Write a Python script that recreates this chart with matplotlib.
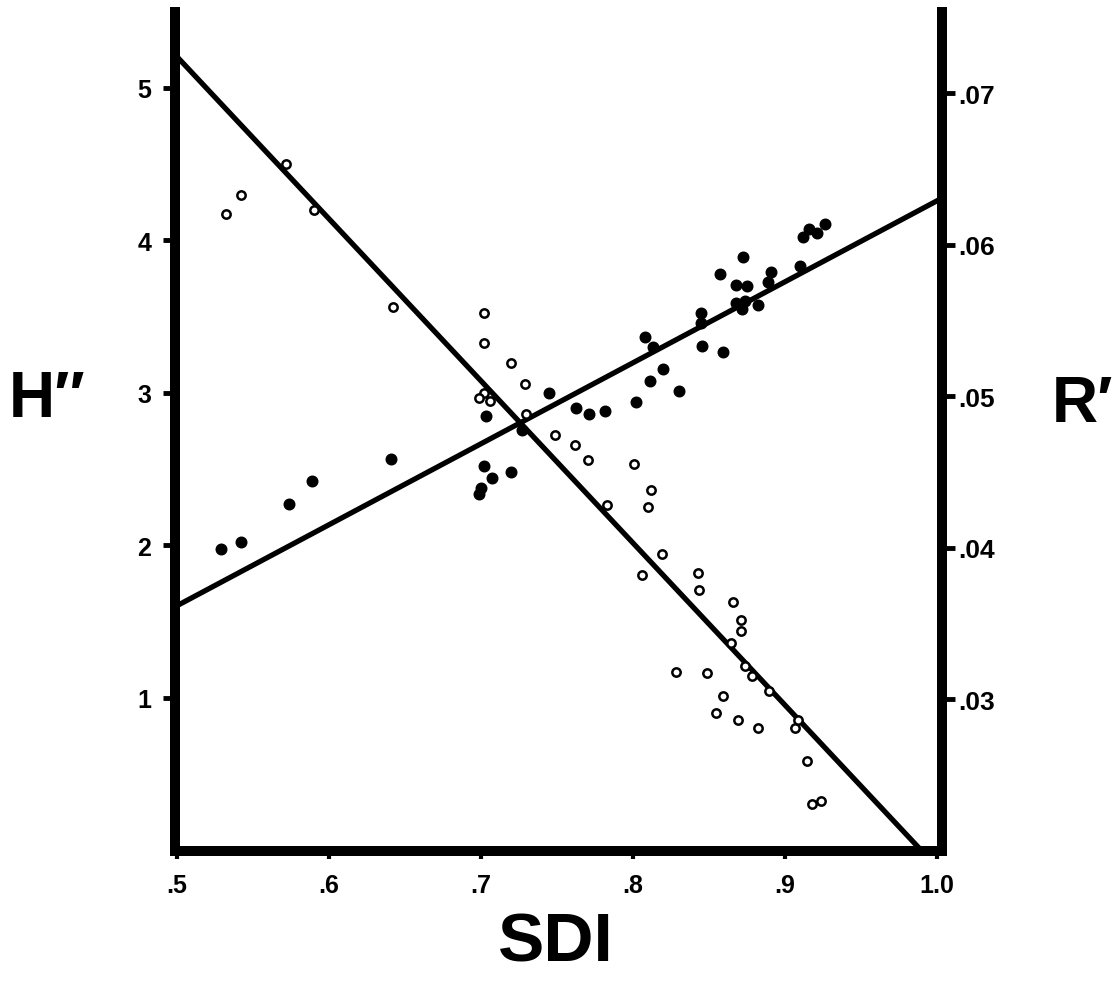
import matplotlib
matplotlib.use("Agg")
import matplotlib.pyplot as plt
import numpy as np

# filled dots: H'' against SDI (left axis)
sdi_h = [0.529, 0.542, 0.574, 0.589, 0.641, 0.699, 0.700, 0.702, 0.707, 0.720,
         0.703, 0.727, 0.745, 0.7625, 0.771, 0.7816, 0.802, 0.811, 0.820, 0.8305,
         0.808, 0.813, 0.8454, 0.8592, 0.8445, 0.8445, 0.857, 0.8725, 0.868, 0.875,
         0.868, 0.872, 0.8737, 0.882, 0.891, 0.889, 0.910, 0.912, 0.916, 0.921, 0.926]
h_vals = [1.98, 2.02, 2.27, 2.42, 2.57, 2.34, 2.38, 2.52, 2.44, 2.48,
          2.85, 2.76, 3.00, 2.90, 2.86, 2.88, 2.94, 3.08, 3.16, 3.01,
          3.37, 3.30, 3.31, 3.27, 3.525, 3.46, 3.78, 3.89, 3.71, 3.70,
          3.59, 3.55, 3.60, 3.58, 3.795, 3.73, 3.83, 4.02, 4.075, 4.05, 4.11]

# open circles: R' against SDI (right axis)
sdi_r = [0.532, 0.542, 0.572, 0.590, 0.642, 0.702, 0.702, 0.7195, 0.729, 0.702,
         0.699, 0.706, 0.7296, 0.749, 0.762, 0.7706, 0.8007, 0.812, 0.810, 0.7827,
         0.8193, 0.806, 0.8426, 0.8436, 0.866, 0.871, 0.871, 0.8645, 0.8485, 0.828,
         0.859, 0.8546, 0.8693, 0.8825, 0.9066, 0.9143, 0.9175, 0.9235, 0.878, 0.8737,
         0.8895, 0.9088]
r_vals = [0.0620, 0.0633, 0.0653, 0.0623, 0.0559, 0.0555, 0.0535, 0.0522, 0.0508, 0.0502,
          0.0499, 0.0497, 0.0488, 0.0474, 0.0468, 0.0458, 0.0455, 0.0438, 0.0427, 0.0428,
          0.0396, 0.0382, 0.0383, 0.0372, 0.0364, 0.0352, 0.0345, 0.0337, 0.0317, 0.0318,
          0.0302, 0.0291, 0.0286, 0.0281, 0.0281, 0.0259, 0.0231, 0.0233, 0.0315, 0.0322,
          0.0305, 0.0286]

# regression lines (intercept, slope)
h_fit = [-1.05, 5.31]
r_fit = [0.1259, -0.107]

x_ticks = [0.5, 0.6, 0.7, 0.8, 0.9, 1.0]
x_labels = ['.5', '.6', '.7', '.8', '.9', '1.0']
h_ticks = [1, 2, 3, 4, 5]
r_ticks = [0.03, 0.04, 0.05, 0.06, 0.07]
r_labels = ['.03', '.04', '.05', '.06', '.07']

plt.rcParams['font.family'] = ['Liberation Sans', 'DejaVu Sans']
plt.rcParams['font.weight'] = 'bold'

fig = plt.figure(figsize=(11.17, 9.95), dpi=100)
ax = fig.add_axes([175 / 1117, 1 - 851.5 / 995, 767 / 1117, 838.5 / 995])
ax2 = ax.twinx()

xlim = (0.4987, 1.0033)
xs = np.array(xlim)

ax.plot(xs, h_fit[0] + h_fit[1] * xs, color='black', lw=3.8, solid_capstyle='butt')
ax.scatter(sdi_h, h_vals, s=58, color='black', zorder=3)

ax2.plot(xs, r_fit[0] + r_fit[1] * xs, color='black', lw=3.8, solid_capstyle='butt')
ax2.plot(sdi_r, r_vals, 'o', ms=6.0, mfc='white', mec='black', mew=1.8, zorder=3)

ax.set_xlim(*xlim)
ax.set_ylim(0, 5.498)
ax2.set_ylim(0.02, 0.07535)

for a in (ax, ax2):
    a.spines['top'].set_visible(False)
    for sp in a.spines.values():
        sp.set_linewidth(7.2)
        sp.set_capstyle('projecting')
ax2.spines['left'].set_visible(False)
ax2.spines['bottom'].set_visible(False)
ax.spines['right'].set_visible(False)

ax.set_xticks(x_ticks)
ax.set_xticklabels(x_labels)
ax.set_yticks(h_ticks)
ax.set_yticklabels([str(t) for t in h_ticks])
ax2.set_yticks(r_ticks)
ax2.set_yticklabels(r_labels)

ax.tick_params(axis='x', length=6, width=3, pad=10, labelsize=18)
ax.tick_params(axis='y', length=9, width=3.5, pad=8, labelsize=18)
ax2.tick_params(axis='y', length=9, width=3.5, pad=3, labelsize=19)

fig.text(47 / 1117, 1 - 400 / 995, 'H\u2033', fontsize=46, fontweight='bold',
         ha='center', va='center')
fig.text(1082 / 1117, 1 - 405 / 995, 'R\u2032', fontsize=46, fontweight='bold',
         ha='center', va='center')
fig.text(556 / 1117, 1 - 944 / 995, 'SDI', fontsize=50, fontweight='bold',
         ha='center', va='center')

fig.savefig('out.png', dpi=100)
